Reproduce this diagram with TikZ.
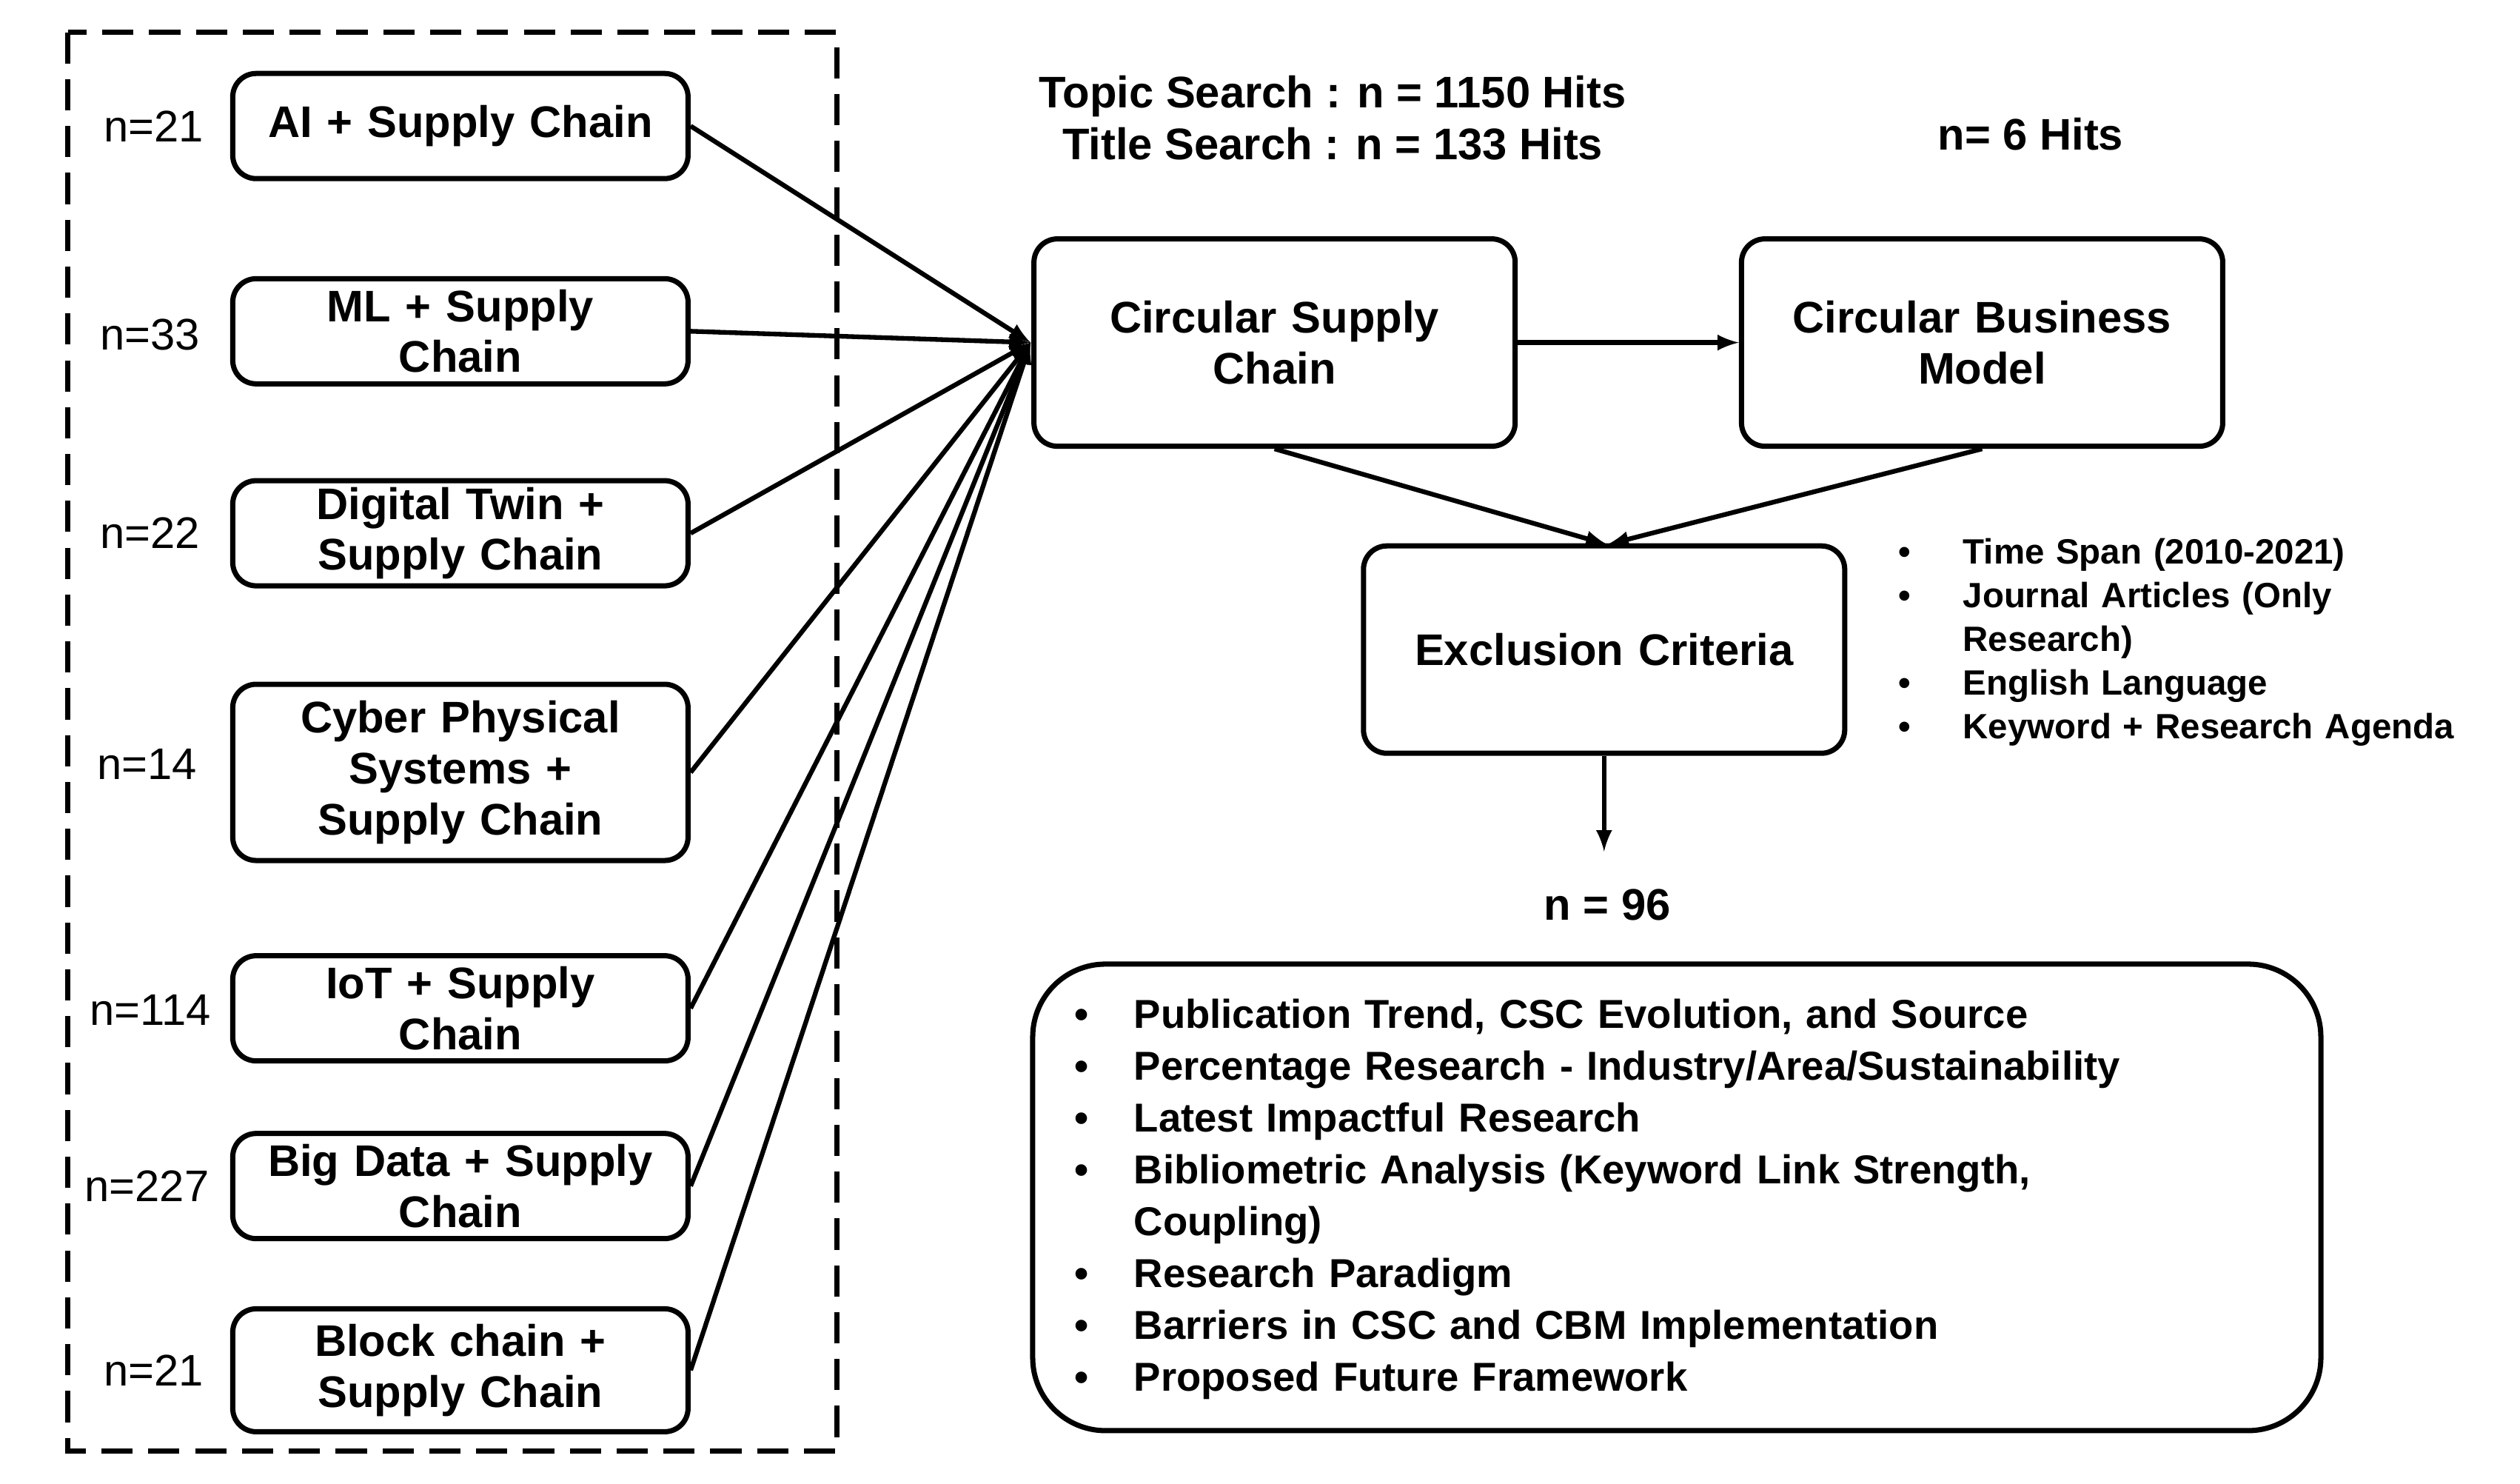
\documentclass[tikz,border=0pt]{standalone}
\usepackage{fontspec}
\setmainfont{Liberation Sans}
\usetikzlibrary{positioning}
\tikzset{
	box/.style={draw,line width=2pt,rounded corners=9pt,align=center,font=\bfseries\fontsize{17}{19.5}\selectfont,inner sep=2pt},
	cnt/.style={font=\fontsize{17}{20}\selectfont},
	arr/.style={->,>=latex,line width=1.8pt}
}
\begin{document}
\begin{tikzpicture}[x=0.02182cm,y=-0.02182cm]
	\useasboundingbox (0,0) rectangle (1560,918);
	\draw[line width=2pt,dash pattern=on 12pt off 6pt] (42,20) rectangle (518,898);
	% search blocks
	\node[box,minimum width=6.15cm,minimum height=1.42cm,text width=6cm] (ai) at (285,78) {AI + Supply Chain};
	\node[box,minimum width=6.15cm,minimum height=1.42cm,text width=6cm] (ml) at (285,205) {ML + Supply\\Chain};
	\node[box,minimum width=6.15cm,minimum height=1.42cm,text width=6cm] (dt) at (285,330) {Digital Twin +\\Supply Chain};
	\node[box,minimum width=6.15cm,minimum height=2.38cm,text width=6cm] (cps) at (285,478) {Cyber Physical\\Systems +\\Supply Chain};
	\node[box,minimum width=6.15cm,minimum height=1.42cm,text width=6cm] (iot) at (285,624) {IoT + Supply\\Chain};
	\node[box,minimum width=6.15cm,minimum height=1.42cm,text width=6cm] (bd) at (285,734) {Big Data + Supply\\Chain};
	\node[box,minimum width=6.15cm,minimum height=1.66cm,text width=6cm] (bc) at (285,848) {Block chain +\\Supply Chain};
	\node[cnt] (nai) at (95,78) {n=21};
	\node[cnt] (nml) at (93,207) {n=33};
	\node[cnt] (ndt) at (93,330) {n=22};
	\node[cnt] (ncps) at (91,473) {n=14};
	\node[cnt] (niot) at (93,625) {n=114};
	\node[cnt] (nbd) at (91,734) {n=227};
	\node[cnt] (nbc) at (95,848) {n=21};
	% main flow
	\node[box,minimum width=6.5cm,minimum height=2.8cm,text width=6.2cm] (csc) at (789,212) {Circular Supply\\Chain};
	\node[box,minimum width=6.5cm,minimum height=2.8cm,text width=6.2cm] (cbm) at (1227,212) {Circular Business\\Model};
	\node[box,minimum width=6.5cm,minimum height=2.8cm,text width=6.2cm] (exc) at (993,402) {Exclusion Criteria};
	\coordinate (cin) at (638,212);
	\foreach \s in {ai,ml,dt,cps,iot,bd,bc}
		\draw[arr] (\s.east) -- (cin);
	\draw[arr] (csc) -- (cbm);
	\coordinate (ein) at (995,337);
	\draw[arr] (csc.south) -- (ein);
	\draw[arr] (cbm.south) -- (ein);
	\coordinate (nout) at (993,527);
	\draw[arr] (exc.south) -- (nout);
	\node[font=\bfseries\fontsize{17}{20}\selectfont,align=center] (hits) at (825,73) {Topic Search : n = 1150 Hits\\Title Search : n = 133 Hits};
	\node[font=\bfseries\fontsize{17}{20}\selectfont] (six) at (1257,83) {n= 6 Hits};
	\node[font=\bfseries\fontsize{17}{20}\selectfont] (n96) at (995,560) {n = 96};
	% exclusion criteria
	\node[anchor=north west,align=left,text width=8cm,font=\bfseries\fontsize{13.5}{16.8}\selectfont,inner sep=0pt] (crit) at (1175,333) {%
		\makebox[0.87cm][l]{\textbullet}Time Span (2010-2021)\\
		\makebox[0.87cm][l]{\textbullet}Journal Articles (Only\\
		\makebox[0.87cm][l]{}Research)\\
		\makebox[0.87cm][l]{\textbullet}English Language\\
		\makebox[0.87cm][l]{\textbullet}Keyword + Research Agenda};
	% outcomes
	\node[draw,line width=2pt,rounded corners=28pt,minimum width=17.4cm,minimum height=6.3cm] (out) at (1038,741) {};
	\node[anchor=north west,align=left,text width=16cm,font=\bfseries\fontsize{15.5}{19.9}\selectfont,inner sep=0pt] (outl) at (665,618) {%
		\makebox[0.8cm][l]{\textbullet}Publication Trend, CSC Evolution, and Source\\
		\makebox[0.8cm][l]{\textbullet}Percentage Research - Industry/Area/Sustainability\\
		\makebox[0.8cm][l]{\textbullet}Latest Impactful Research\\
		\makebox[0.8cm][l]{\textbullet}Bibliometric Analysis (Keyword Link Strength,\\
		\makebox[0.8cm][l]{}Coupling)\\
		\makebox[0.8cm][l]{\textbullet}Research Paradigm\\
		\makebox[0.8cm][l]{\textbullet}Barriers in CSC and CBM Implementation\\
		\makebox[0.8cm][l]{\textbullet}Proposed Future Framework};
\end{tikzpicture}
\end{document}
